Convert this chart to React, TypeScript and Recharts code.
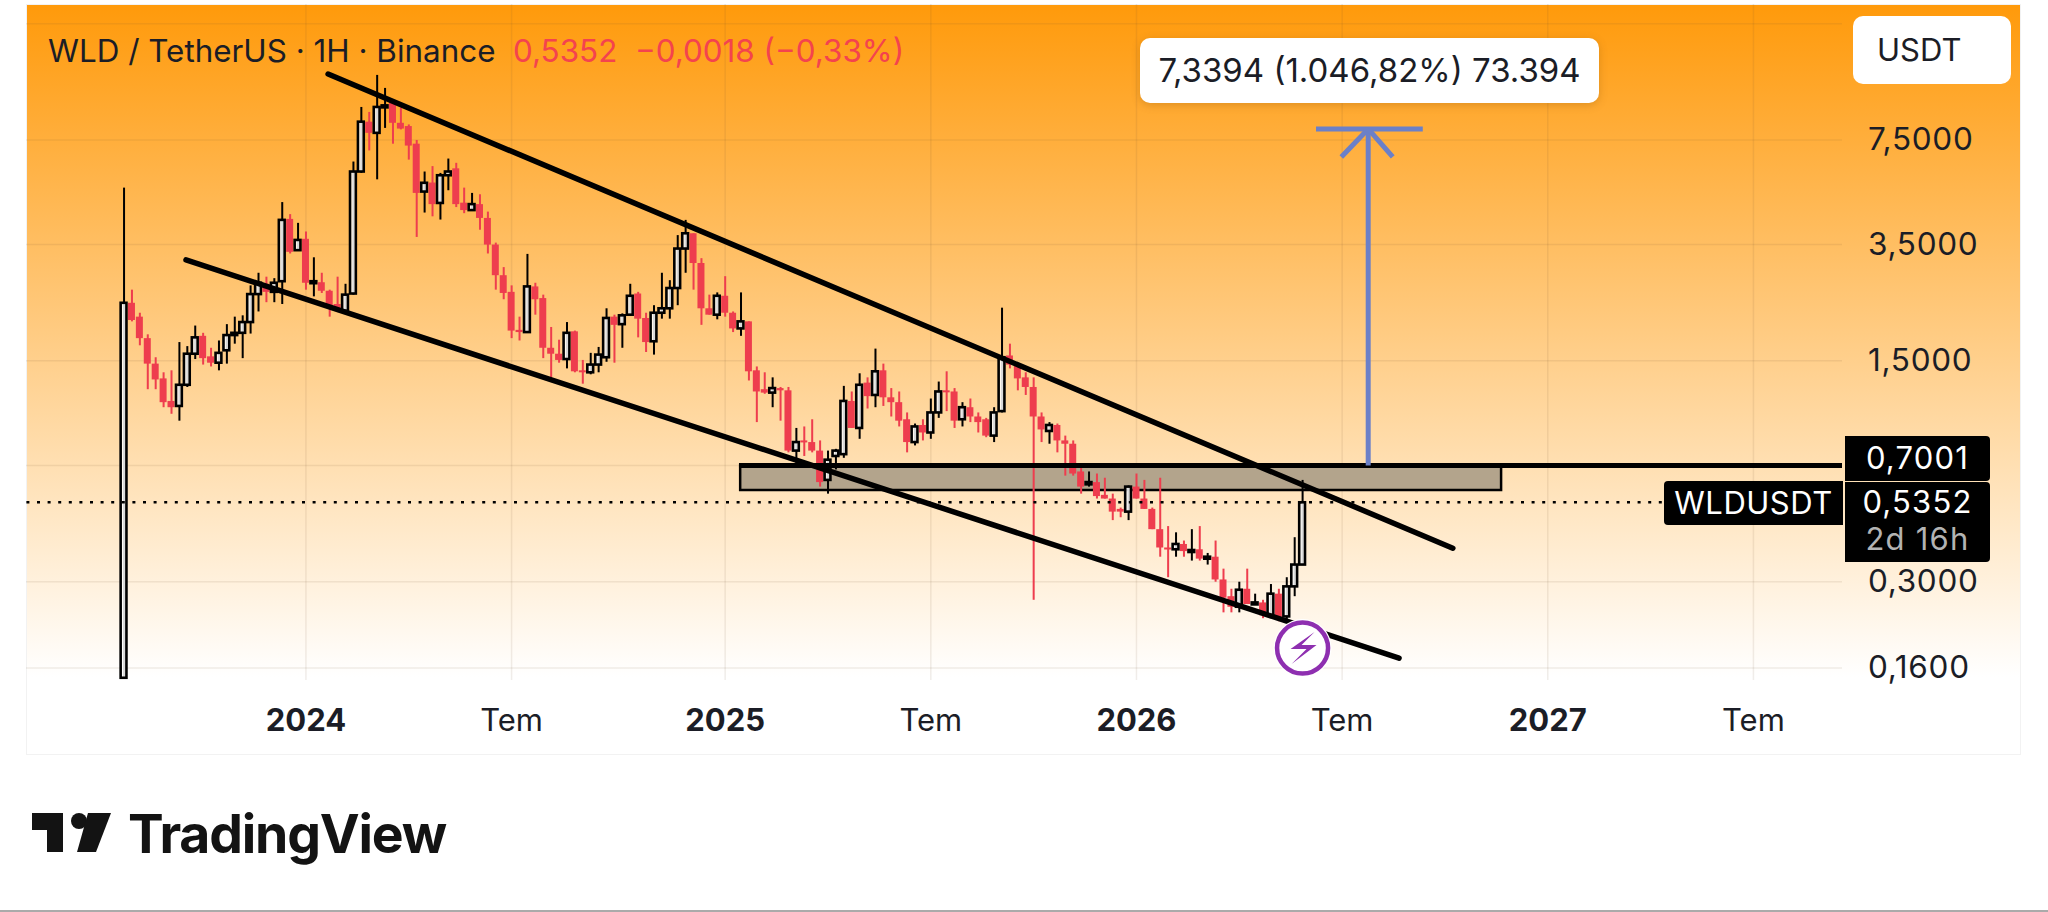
import { Bar, CartesianGrid, ComposedChart, ReferenceArea, ReferenceDot, ReferenceLine, XAxis, YAxis } from "recharts";

// weekly candles
const opens = [
  0.149, 2.29, 2.07, 1.77, 1.47, 1.32, 1.12, 1.08, 1.26, 1.58,
  1.8, 1.55, 1.48, 1.62, 1.81, 1.84, 1.99, 2.44, 2.63, 2.48,
  2.68, 4.22, 3.36, 3.65, 2.66, 2.66, 2.5, 2.27, 2.16, 2.45,
  5.96, 8.57, 7.9, 9.54, 9.85, 8.5, 8.3, 7.3, 5.15, 5.5,
  4.74, 5.8, 6.1, 4.75, 4.5, 4.7, 4.25, 3.5, 2.8, 2.48,
  1.88, 1.85, 2.58, 2.37, 1.65, 1.58, 1.52, 1.86, 1.4, 1.38,
  1.46, 1.54, 2.07, 1.96, 2.1, 2.45, 2.05, 1.73, 2.13, 2.2,
  2.55, 3.4, 3.8, 3.06, 2.2, 2.1, 2.41, 2.13, 1.9, 2.0,
  1.4, 1.22, 1.19, 1.23, 1.21, 0.78, 0.84, 0.83, 0.78, 0.63,
  0.75, 0.76, 1.12, 0.92, 1.28, 1.17, 1.4, 1.15, 1.11, 0.98,
  0.83, 0.94, 0.89, 1.03, 1.21, 1.2, 0.98, 1.07, 1.0, 0.98,
  0.87, 1.04, 1.56, 1.46, 1.33, 1.24, 1.0, 0.9, 0.94, 0.84,
  0.82, 0.67, 0.61, 0.62, 0.565, 0.55, 0.51, 0.5, 0.6, 0.55,
  0.51, 0.44, 0.385, 0.38, 0.395, 0.375, 0.38, 0.355, 0.36, 0.305,
  0.27, 0.25, 0.285, 0.255, 0.258, 0.235, 0.275, 0.233, 0.29, 0.34,
];
const highs = [
  5.3, 2.52, 2.13, 1.82, 1.54, 1.38, 1.4, 1.72, 1.67, 1.94,
  1.84, 1.65, 1.74, 1.96, 2.07, 2.09, 2.6, 2.85, 2.77, 2.74,
  4.77, 4.37, 4.1, 3.85, 3.19, 2.85, 2.52, 2.77, 2.63, 6.41,
  9.54, 9.2, 12.05, 10.96, 10.0, 9.5, 8.4, 7.5, 5.96, 6.2,
  5.9, 6.55, 6.35, 5.3, 5.1, 5.05, 4.45, 3.55, 2.97, 2.6,
  2.07, 3.27, 2.65, 2.43, 1.92, 1.75, 1.99, 1.87, 1.51, 1.59,
  1.66, 2.2, 2.1, 2.12, 2.63, 2.48, 2.13, 2.25, 2.85, 2.7,
  3.75, 4.19, 3.8, 3.17, 2.43, 2.47, 2.78, 2.15, 2.47, 2.0,
  1.44, 1.38, 1.33, 1.24, 1.24, 0.92, 0.93, 0.98, 0.84, 0.78,
  0.79, 1.25, 1.2, 1.37, 1.33, 1.64, 1.47, 1.23, 1.2, 1.03,
  0.95, 0.98, 1.14, 1.29, 1.39, 1.23, 1.11, 1.14, 1.03, 0.99,
  1.07, 2.21, 1.7, 1.47, 1.38, 1.33, 1.03, 0.96, 0.95, 0.87,
  0.84, 0.71, 0.67, 0.66, 0.64, 0.57, 0.515, 0.605, 0.66, 0.63,
  0.515, 0.64, 0.45, 0.43, 0.405, 0.44, 0.45, 0.37, 0.405, 0.33,
  0.285, 0.3, 0.33, 0.275, 0.263, 0.295, 0.285, 0.31, 0.415, 0.63,
];
const lows = [
  0.149, 2.0, 1.68, 1.22, 1.22, 1.07, 1.02, 0.97, 1.24, 1.52,
  1.46, 1.44, 1.4, 1.47, 1.7, 1.53, 1.83, 2.15, 2.3, 2.3,
  2.27, 3.28, 3.36, 2.52, 2.4, 2.46, 2.07, 2.14, 2.11, 2.43,
  5.9, 6.95, 5.63, 8.19, 7.3, 8.1, 6.5, 3.7, 4.42, 4.3,
  4.2, 5.2, 4.6, 4.4, 4.5, 3.9, 3.28, 2.52, 2.35, 1.77,
  1.74, 1.85, 2.1, 1.53, 1.33, 1.48, 1.42, 1.38, 1.27, 1.36,
  1.38, 1.49, 1.48, 1.65, 2.09, 1.78, 1.6, 1.57, 2.04, 2.04,
  2.25, 2.85, 2.52, 1.95, 2.1, 2.03, 2.07, 1.85, 1.8, 1.3,
  0.96, 1.18, 1.07, 0.97, 0.77, 0.71, 0.75, 0.77, 0.6, 0.57,
  0.68, 0.74, 0.92, 0.85, 1.06, 1.07, 1.08, 1.0, 0.93, 0.77,
  0.81, 0.84, 0.85, 0.99, 1.04, 0.92, 0.93, 0.96, 0.89, 0.86,
  0.83, 1.03, 1.42, 1.21, 1.17, 0.263, 0.83, 0.82, 0.77, 0.65,
  0.65, 0.57, 0.6, 0.55, 0.55, 0.47, 0.48, 0.47, 0.55, 0.51,
  0.44, 0.36, 0.31, 0.36, 0.36, 0.35, 0.35, 0.34, 0.3, 0.24,
  0.24, 0.24, 0.255, 0.255, 0.23, 0.232, 0.225, 0.225, 0.27, 0.34,
];
const closes = [
  2.29, 2.02, 1.77, 1.47, 1.31, 1.11, 1.07, 1.26, 1.58, 1.78,
  1.53, 1.48, 1.59, 1.81, 1.84, 1.99, 2.44, 2.65, 2.48, 2.65,
  4.19, 3.32, 3.62, 2.65, 2.68, 2.5, 2.25, 2.16, 2.43, 5.96,
  8.57, 7.9, 9.54, 9.65, 8.5, 8.15, 7.2, 5.1, 5.49, 4.7,
  5.8, 5.96, 4.7, 4.5, 4.7, 4.25, 3.5, 2.8, 2.46, 1.87,
  1.85, 2.58, 2.35, 1.65, 1.58, 1.51, 1.84, 1.39, 1.38, 1.46,
  1.57, 2.05, 1.95, 2.09, 2.41, 2.04, 1.72, 2.13, 2.2, 2.55,
  3.4, 3.8, 3.06, 2.2, 2.1, 2.41, 2.13, 1.9, 2.0, 1.39,
  1.2, 1.19, 1.23, 1.21, 0.78, 0.83, 0.83, 0.78, 0.62, 0.73,
  0.78, 1.12, 0.92, 1.26, 1.16, 1.39, 1.15, 1.11, 0.97, 0.83,
  0.93, 0.89, 1.03, 1.2, 1.2, 0.97, 1.07, 1.0, 0.96, 0.87,
  1.03, 1.54, 1.46, 1.32, 1.24, 1.0, 0.91, 0.94, 0.84, 0.82,
  0.66, 0.6, 0.62, 0.56, 0.55, 0.5, 0.5, 0.6, 0.55, 0.51,
  0.44, 0.385, 0.38, 0.395, 0.375, 0.378, 0.355, 0.36, 0.305, 0.267,
  0.25, 0.283, 0.255, 0.258, 0.235, 0.275, 0.232, 0.29, 0.34, 0.5352,
];

const xTicks = [23, 49, 76, 102, 128, 154, 180, 206];
const xLabels = ["2024", "Tem", "2025", "Tem", "2026", "Tem", "2027", "Tem"];
const yTicks = [7.5, 3.5, 1.5, 0.3, 0.16];
const gridPrices = [17.5, 7.5, 3.5, 1.5, 0.7, 0.3, 0.16];

const upperTrend = [{ x: 25.8, y: 12.13 }, { x: 168, y: 0.383 }];
const lowerTrend = [{ x: 7.84, y: 3.13 }, { x: 161.2, y: 0.172 }];
const lastPrice = 0.5352;
const zoneTop = 0.7001;
const zoneBottom = 0.585;

const candles = opens.map((open, i) => ({
  i,
  open,
  high: highs[i],
  low: lows[i],
  close: closes[i],
}));

const RED = "#ee3d4e";
const FONT = "Inter, sans-serif";
const TEXT = "#1b1d26";

const Wick = (p: any) => (
  <rect x={p.x} y={p.y} width={p.width} height={p.height} fill={p.payload.close >= p.payload.open ? "#000" : RED} />
);

const Body = (p: any) => {
  const h = Math.max(p.height, 2);
  if (p.payload.close >= p.payload.open) {
    return <rect x={p.x + 0.6} y={p.y} width={p.width - 1.2} height={h} fill="rgba(255,255,255,0.85)" stroke="#000" strokeWidth={2.6} />;
  }
  return <rect x={p.x} y={p.y} width={p.width} height={h} fill={RED} />;
};

const TimeTick = (p: any) => {
  const label = xLabels[xTicks.indexOf(p.payload.value)];
  return (
    <text x={p.x} y={p.y + 43} textAnchor="middle" fontFamily={FONT} fontSize={31} fontWeight={label === "Tem" ? 400 : 700} fill={TEXT}>
      {label}
    </text>
  );
};

const BoltBadge = (p: any) => (
  <g>
    <circle cx={p.cx} cy={p.cy} r={29} fill="#fff" />
    <circle cx={p.cx} cy={p.cy} r={25.5} fill="#fff" stroke="#8e2fb0" strokeWidth={4.5} />
    <path
      d={`M${p.cx + 12} ${p.cy - 16} L${p.cx - 12} ${p.cy + 1} L${p.cx + 4} ${p.cy + 1} L${p.cx - 11} ${p.cy + 16} L${p.cx + 14} ${p.cy - 3} L${p.cx - 1} ${p.cy - 3} Z`}
      fill="#8e2fb0"
    />
  </g>
);

const tag = (style: React.CSSProperties): React.CSSProperties => ({
  position: "absolute",
  background: "#000",
  color: "#fff",
  fontFamily: FONT,
  fontSize: 31,
  letterSpacing: 1.2,
  whiteSpace: "nowrap",
  ...style,
});

const text = (style: React.CSSProperties): React.CSSProperties => ({
  position: "absolute",
  fontFamily: FONT,
  fontSize: 31.4,
  whiteSpace: "nowrap",
  ...style,
});

export default function App() {
  return (
    <div style={{ position: "absolute", left: 0, top: 0, width: 2048, height: 912, background: "#fff", overflow: "hidden" }}>
      <div
        style={{
          position: "absolute",
          left: 26,
          top: 4,
          width: 1995,
          height: 751,
          boxSizing: "border-box",
          border: "1px solid #f2f2f2",
          background: "linear-gradient(#ff9a0b 0, #ffffff 672px)",
        }}
      />
      <div style={{ position: "absolute", left: 0, top: 0 }}>
        <ComposedChart width={2048} height={912} data={candles} margin={{ top: 4, right: 0, bottom: 157, left: 26 }}>
          <XAxis
            xAxisId="main"
            dataKey="i"
            type="number"
            domain={[-12.39, 217.2]}
            ticks={xTicks}
            interval={0}
            height={75}
            axisLine={false}
            tickLine={false}
            tick={<TimeTick />}
          />
          <XAxis xAxisId="wick" dataKey="i" type="number" domain={[-12.39, 217.2]} hide />
          <YAxis
            orientation="right"
            scale="log"
            domain={[0.1466, 20.2]}
            ticks={yTicks}
            interval={0}
            width={206}
            axisLine={false}
            tickLine={false}
            tickSize={0}
            tickMargin={26}
            tick={{ fill: TEXT, fontSize: 31.5, fontFamily: FONT, dy: -1, letterSpacing: 0.7 }}
            tickFormatter={(v: number) => v.toFixed(4).replace(".", ",")}
          />
          <CartesianGrid
            xAxisId="main"
            stroke="rgba(110,80,50,0.1)"
            strokeWidth={1.5}
            horizontalValues={gridPrices}
            verticalValues={xTicks}
          />
          <ReferenceArea
            xAxisId="main"
            x1={77.9}
            x2={174.1}
            y1={zoneBottom}
            y2={zoneTop}
            fill="#b3a48c"
            fillOpacity={1}
            stroke="#000"
            strokeWidth={2.5}
          />
          <ReferenceLine xAxisId="main" y={lastPrice} stroke="#000" strokeWidth={2.6} strokeDasharray="3 7.6" segment={[{ x: -12.39, y: lastPrice }, { x: 194, y: lastPrice }]} />
          <Bar xAxisId="wick" dataKey={(d: any) => [d.low, d.high]} barSize={2} shape={<Wick />} isAnimationActive={false} />
          <Bar
            xAxisId="main"
            dataKey={(d: any) => [Math.min(d.open, d.close), Math.max(d.open, d.close)]}
            barSize={7}
            shape={<Body />}
            isAnimationActive={false}
          />
          <ReferenceLine xAxisId="main" segment={[{ x: 77.75, y: zoneTop }, { x: 217.2, y: zoneTop }]} stroke="#000" strokeWidth={5} />
          <ReferenceLine xAxisId="main" segment={upperTrend} stroke="#000" strokeWidth={5.5} strokeLinecap="round" />
          <ReferenceLine xAxisId="main" segment={lowerTrend} stroke="#000" strokeWidth={5.5} strokeLinecap="round" />
          <ReferenceLine xAxisId="main" segment={[{ x: 157.3, y: zoneTop }, { x: 157.3, y: 8.13 }]} stroke="#6b80c8" strokeWidth={5} />
          <ReferenceLine xAxisId="main" segment={[{ x: 150.7, y: 8.13 }, { x: 164.2, y: 8.13 }]} stroke="#6b80c8" strokeWidth={5} />
          <ReferenceLine xAxisId="main" segment={[{ x: 153.9, y: 6.63 }, { x: 157.3, y: 8.13 }]} stroke="#6b80c8" strokeWidth={5} />
          <ReferenceLine xAxisId="main" segment={[{ x: 160.4, y: 6.63 }, { x: 157.3, y: 8.13 }]} stroke="#6b80c8" strokeWidth={5} />
          <ReferenceDot xAxisId="main" x={149} y={0.185} r={27} shape={<BoltBadge />} />
        </ComposedChart>
      </div>

      <div style={text({ left: 48, top: 32, color: TEXT })}>WLD / TetherUS · 1H · Binance</div>
      <div style={text({ left: 513, top: 32, color: "#f4434e" })}>0,5352&nbsp; −0,0018 (−0,33%)</div>

      <div
        style={text({
          left: 1140,
          top: 38,
          width: 459,
          height: 65,
          lineHeight: "65px",
          textAlign: "center",
          background: "#fff",
          borderRadius: 10,
          boxShadow: "0 2px 8px rgba(120,70,0,0.25)",
          color: TEXT,
          fontSize: 33,
        })}
      >
        7,3394 (1.046,82%) 73.394
      </div>
      <div
        style={text({
          left: 1853,
          top: 16,
          width: 158,
          height: 68,
          lineHeight: "68px",
          paddingLeft: 24,
          boxSizing: "border-box",
          background: "#fff",
          borderRadius: 10,
          color: TEXT,
          fontSize: 31,
        })}
      >
        USDT
      </div>

      <div style={tag({ left: 1845, top: 436, width: 145, height: 45, lineHeight: "43px", textAlign: "center", borderRadius: "0 4px 4px 0" })}>0,7001</div>
      <div style={tag({ left: 1845, top: 482, width: 145, height: 80, borderRadius: "0 4px 4px 0" })}>
        <div style={{ position: "absolute", left: 0, width: 145, textAlign: "center", top: 0, lineHeight: "40px" }}>0,5352</div>
        <div style={{ position: "absolute", left: 0, width: 145, textAlign: "center", top: 37, lineHeight: "40px", color: "#b3b3b3" }}>2d 16h</div>
      </div>
      <div style={tag({ left: 1664, top: 481, width: 179, height: 44, lineHeight: "44px", textAlign: "center", borderRadius: "4px 0 0 4px", letterSpacing: 0.5 })}>WLDUSDT</div>

      <svg style={{ position: "absolute", left: 32, top: 813 }} width={80} height={40}>
        <path d="M0 0 H31 V39 H15 V17 H0 Z" fill="#131313" />
        <circle cx={47} cy={8} r={8} fill="#131313" />
        <path d="M56 0 H79 L64 39 H45 Z" fill="#131313" />
      </svg>
      <div style={text({ left: 128, top: 801, fontSize: 53.5, fontWeight: 700, color: "#131313", letterSpacing: -1.2 })}>TradingView</div>
      <div style={{ position: "absolute", left: 0, top: 910, width: 2048, height: 2, background: "#aaa" }} />
    </div>
  );
}
